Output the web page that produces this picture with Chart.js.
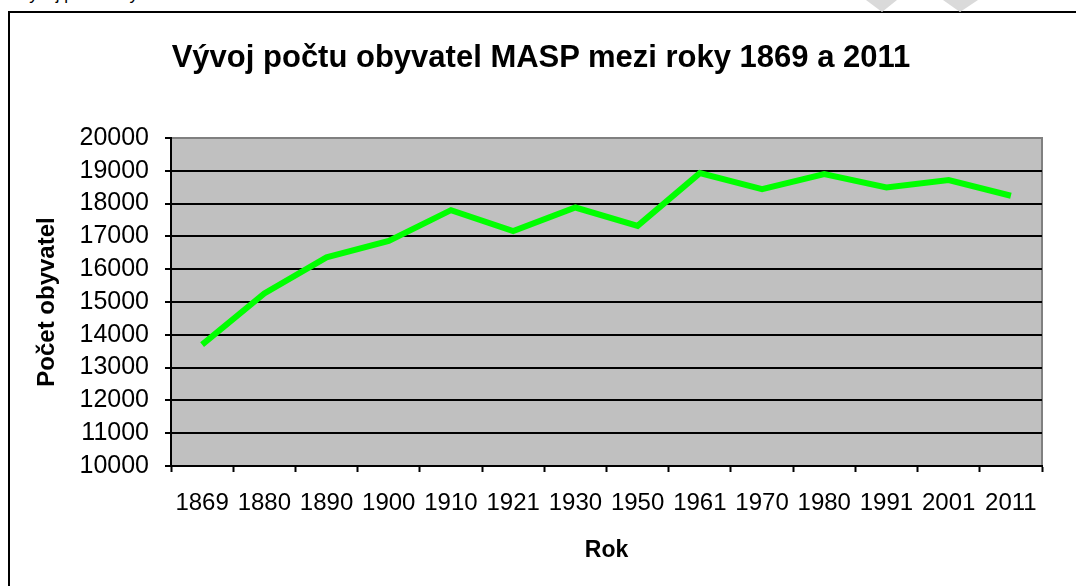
<!DOCTYPE html>
<html>
<head>
<meta charset="utf-8">
<script src="https://cdn.jsdelivr.net/npm/chart.js@4"></script>
<style>
  html, body { margin: 0; padding: 0; background: #fff; overflow: hidden; }
  body { width: 1076px; height: 586px; position: relative; }
  #frame {
    position: absolute; left: 8px; top: 11px; width: 1200px; height: 700px;
    border-left: 2px solid #000; border-top: 2px solid #000;
  }
  #cut {
    position: absolute; left: 18px; top: -15px; line-height: 18px;
    font: 17px "Liberation Sans", Arial, sans-serif; color: #000; white-space: nowrap;
  }
  #title {
    position: absolute; left: 0; width: 1082px; top: 41px; text-align: center;
    font: bold 31px/31px "Liberation Sans", Arial, sans-serif; color: #000; white-space: nowrap;
  }
  #wrap { position: absolute; left: 0; top: 0; width: 1076px; height: 586px; }
</style>
</head>
<body>
<div id="cut">Vývoj počtu obyvatel</div>
<div id="frame"></div>
<div id="wrap"><canvas id="chart" width="1076" height="586"></canvas></div>
<div id="title">Vývoj počtu obyvatel MASP mezi roky 1869 a 2011</div>
<script>
const YEARS = ["1869", "1880", "1890", "1900", "1910", "1921", "1930", "1950",
  "1961", "1970", "1980", "1991", "2001", "2011"];
const POPULATION = [13700, 15260, 16360, 16860, 17800, 17160, 17880, 17320,
  18930, 18440, 18900, 18490, 18720, 18240];
const Y_MIN = 10000;
const Y_MAX = 20000;
const Y_STEP = 1000;

const FONT = "'Liberation Sans', Arial, sans-serif";

// gray plot background + gray top/right edge, light watermark tips at top
const plotBackground = {
  id: "plotBackground",
  beforeDraw(chart) {
    const { ctx, chartArea: a } = chart;
    ctx.save();
    ctx.fillStyle = "#c0c0c0";
    ctx.fillRect(a.left, a.top, a.right - a.left, a.bottom - a.top);
    ctx.strokeStyle = "#808080";
    ctx.lineWidth = 2;
    ctx.beginPath();
    ctx.moveTo(a.left, a.top);
    ctx.lineTo(a.right, a.top);
    ctx.lineTo(a.right, a.bottom);
    ctx.stroke();
    // watermark remnants
    ctx.fillStyle = "#dadada";
    ctx.beginPath();
    ctx.moveTo(866, 0); ctx.lineTo(897, 0); ctx.lineTo(882, 12); ctx.closePath();
    ctx.fill();
    ctx.beginPath();
    ctx.moveTo(943, 0); ctx.lineTo(978, 0); ctx.lineTo(960, 12); ctx.closePath();
    ctx.fill();
    ctx.restore();
  },
};

new Chart(document.getElementById("chart"), {
  type: "line",
  data: {
    labels: YEARS,
    datasets: [{
      data: POPULATION,
      borderColor: "#00ff00",
      borderWidth: 6,
      pointRadius: 0,
      tension: 0,
      borderJoinStyle: "miter",
    }],
  },
  options: {
    responsive: false,
    animation: false,
    layout: { padding: { left: 0, right: 34, top: 138, bottom: 0 } },
    plugins: {
      legend: { display: false },
      tooltip: { enabled: false },
    },
    scales: {
      x: {
        offset: true,
        afterFit: (s) => { s.height = 120; },
        grid: { offset: true, drawOnChartArea: false, tickLength: 6, tickColor: "#000", tickWidth: 2 },
        border: { color: "#000", width: 2 },
        ticks: { color: "#000", font: { family: FONT, size: 24 }, padding: 17, maxRotation: 0, autoSkip: false },
        title: {
          display: true, text: "Rok", color: "#000",
          font: { family: FONT, size: 23, weight: "bold" },
          padding: { top: 0, bottom: 22 },
        },
      },
      y: {
        min: Y_MIN,
        max: Y_MAX,
        afterFit: (s) => { s.width = 171; },
        grid: {
          color: (c) => (c.tick && c.tick.value === Y_MAX ? "rgba(0,0,0,0)" : "#000"),
          lineWidth: 2,
          tickLength: 6,
          tickColor: "#000",
        },
        border: { color: "#000", width: 2 },
        ticks: {
          stepSize: Y_STEP, autoSkip: false, color: "#000",
          font: { family: FONT, size: 25 }, padding: 16,
          callback: (v) => String(v),
        },
        title: {
          display: true, text: "Počet obyvatel", color: "#000",
          font: { family: FONT, size: 24, weight: "bold" },
          padding: { top: 33, bottom: 0 },
        },
      },
    },
  },
  plugins: [plotBackground],
});
</script>
</body>
</html>
